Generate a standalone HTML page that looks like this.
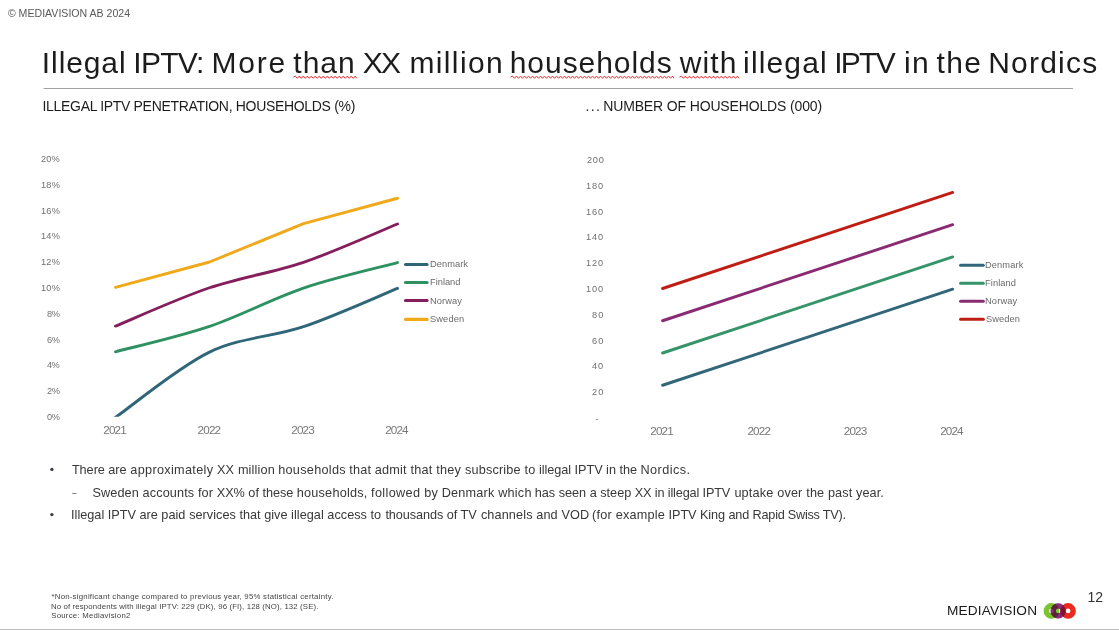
<!DOCTYPE html>
<html lang="en"><head><meta charset="utf-8"><title>Illegal IPTV</title>
<style>
html,body{margin:0;padding:0;background:#fff;}
body{width:1119px;height:630px;position:relative;overflow:hidden;font-family:"Liberation Sans", sans-serif;}
.slide{position:absolute;left:0;top:0;width:1119px;height:629px;border-bottom:1px solid #bdbdbd;background:#fff;overflow:hidden;}
.g{margin:0;padding:0;font-size:0;font-weight:400;list-style:none;position:static;display:block;}
.t{position:absolute;white-space:nowrap;font-family:"Liberation Sans", sans-serif;font-weight:400;}
.chart{position:absolute;left:0;top:0;}
</style></head><body>
<div class="slide">
<svg class="chart" width="1119" height="630" viewBox="0 0 1119 630">
<defs><clipPath id="cl"><rect x="60" y="150" width="360" height="266.8"/></clipPath></defs>
<g fill="none" stroke-width="2.9" stroke-linecap="round" stroke-linejoin="round">
<g clip-path="url(#cl)">
<path d="M112.29,419.55 L116.40,416.70 C131.92,405.94 178.32,367.13 209.50,352.12 C240.68,337.12 272.17,337.30 303.50,326.68 C334.83,316.05 381.83,294.74 397.50,288.35" stroke="#2f6678"/>
<path d="M115.50,351.82 C131.17,347.58 178.17,337.00 209.50,326.38 C240.83,315.75 272.17,298.68 303.50,288.05 C334.83,277.42 381.83,266.84 397.50,262.60" stroke="#2e9162"/>
<path d="M115.50,326.07 C131.17,319.69 178.17,298.38 209.50,287.75 C240.83,277.12 272.17,272.93 303.50,262.30 C334.83,251.67 381.83,230.36 397.50,223.98" stroke="#851e5c"/>
<path d="M115.50,287.45 L209.50,262.00 L303.50,223.68 L397.50,198.23" stroke="#efa91b"/>
</g>
<path d="M662.60,385.25 L952.70,289.15" stroke="#32677a"/>
<path d="M662.60,353.00 L952.70,256.90" stroke="#36946a"/>
<path d="M662.60,320.75 L952.70,224.65" stroke="#8a2a72"/>
<path d="M662.60,288.50 L952.70,192.40" stroke="#bf1e14"/>
<path d="M405.5,264.5 L427.1,264.5" stroke="#2f6678" stroke-width="3.1"/>
<path d="M405.5,282.5 L427.1,282.5" stroke="#2e9162" stroke-width="3.1"/>
<path d="M405.5,300.5 L427.1,300.5" stroke="#851e5c" stroke-width="3.1"/>
<path d="M405.5,319.4 L427.1,319.4" stroke="#efa91b" stroke-width="3.1"/>
<path d="M960.6,265.3 L983.3,265.3" stroke="#32677a" stroke-width="3.1"/>
<path d="M960.6,283.3 L983.3,283.3" stroke="#36946a" stroke-width="3.1"/>
<path d="M960.6,301.3 L983.3,301.3" stroke="#8a2a72" stroke-width="3.1"/>
<path d="M960.6,319.3 L983.3,319.3" stroke="#bf1e14" stroke-width="3.1"/>
</g>
<path d="M293.3,77.2 L295.3,76.1 L297.3,78.3 L299.3,76.1 L301.3,78.3 L303.3,76.1 L305.3,78.3 L307.3,76.1 L309.3,78.3 L311.3,76.1 L313.3,78.3 L315.3,76.1 L317.3,78.3 L319.3,76.1 L321.3,78.3 L323.3,76.1 L325.3,78.3 L327.3,76.1 L329.3,78.3 L331.3,76.1 L333.3,78.3 L335.3,76.1 L337.3,78.3 L339.3,76.1 L341.3,78.3 L343.3,76.1 L345.3,78.3 L347.3,76.1 L349.3,78.3 L351.3,76.1 L353.3,78.3 L355.3,76.1 L356.8,78.3" fill="none" stroke="#e23030" stroke-width="1"/>
<path d="M510.5,77.2 L512.5,76.1 L514.5,78.3 L516.5,76.1 L518.5,78.3 L520.5,76.1 L522.5,78.3 L524.5,76.1 L526.5,78.3 L528.5,76.1 L530.5,78.3 L532.5,76.1 L534.5,78.3 L536.5,76.1 L538.5,78.3 L540.5,76.1 L542.5,78.3 L544.5,76.1 L546.5,78.3 L548.5,76.1 L550.5,78.3 L552.5,76.1 L554.5,78.3 L556.5,76.1 L558.5,78.3 L560.5,76.1 L562.5,78.3 L564.5,76.1 L566.5,78.3 L568.5,76.1 L570.5,78.3 L572.5,76.1 L574.5,78.3 L576.5,76.1 L578.5,78.3 L580.5,76.1 L582.5,78.3 L584.5,76.1 L586.5,78.3 L588.5,76.1 L590.5,78.3 L592.5,76.1 L594.5,78.3 L596.5,76.1 L598.5,78.3 L600.5,76.1 L602.5,78.3 L604.5,76.1 L606.5,78.3 L608.5,76.1 L610.5,78.3 L612.5,76.1 L614.5,78.3 L616.5,76.1 L618.5,78.3 L620.5,76.1 L622.5,78.3 L624.5,76.1 L626.5,78.3 L628.5,76.1 L630.5,78.3 L632.5,76.1 L634.5,78.3 L636.5,76.1 L638.5,78.3 L640.5,76.1 L642.5,78.3 L644.5,76.1 L646.5,78.3 L648.5,76.1 L650.5,78.3 L652.5,76.1 L654.5,78.3 L656.5,76.1 L658.5,78.3 L660.5,76.1 L662.5,78.3 L664.5,76.1 L666.5,78.3 L668.5,76.1 L670.5,78.3 L672.5,76.1 L673.8,78.3" fill="none" stroke="#e23030" stroke-width="1"/>
<path d="M679.4,77.2 L681.4,76.1 L683.4,78.3 L685.4,76.1 L687.4,78.3 L689.4,76.1 L691.4,78.3 L693.4,76.1 L695.4,78.3 L697.4,76.1 L699.4,78.3 L701.4,76.1 L703.4,78.3 L705.4,76.1 L707.4,78.3 L709.4,76.1 L711.4,78.3 L713.4,76.1 L715.4,78.3 L717.4,76.1 L719.4,78.3 L721.4,76.1 L723.4,78.3 L725.4,76.1 L727.4,78.3 L729.4,76.1 L731.4,78.3 L733.4,76.1 L735.4,78.3 L737.4,76.1 L738.8,78.3" fill="none" stroke="#e23030" stroke-width="1"/>
<rect x="43.6" y="88" width="1029.5" height="1" fill="#a2a2a2"/>
<rect x="595.9" y="419" width="2.3" height="0.9" fill="#8a8a8a"/>
<rect x="72.2" y="493" width="4.3" height="0.8" fill="#666"/>
<circle cx="51.9" cy="469.4" r="1.65" fill="#363a48"/><circle cx="51.9" cy="514.6" r="1.65" fill="#363a48"/>
<g>
<path  fill="#7ac52f" fill-rule="evenodd" d="M1043.60,610.9a7.8,7.8 0 1,0 15.6,0a7.8,7.8 0 1,0 -15.6,0Z M1049.10,610.9a2.3,2.3 0 1,0 4.6,0a2.3,2.3 0 1,0 -4.6,0Z"/>
<path  fill="#ea2a1e" fill-rule="evenodd" d="M1060.30,610.9a7.8,7.8 0 1,0 15.6,0a7.8,7.8 0 1,0 -15.6,0Z M1065.80,610.9a2.3,2.3 0 1,0 4.6,0a2.3,2.3 0 1,0 -4.6,0Z"/>
<path style="mix-blend-mode:multiply" fill="#8e2a7c" fill-rule="evenodd" d="M1050.50,610.9a7.6,7.6 0 1,0 15.2,0a7.6,7.6 0 1,0 -15.2,0Z M1055.80,610.9a2.3,2.3 0 1,0 4.6,0a2.3,2.3 0 1,0 -4.6,0Z"/>
<path opacity="0.3" fill="#8e2a7c" fill-rule="evenodd" d="M1050.50,610.9a7.6,7.6 0 1,0 15.2,0a7.6,7.6 0 1,0 -15.2,0Z M1055.80,610.9a2.3,2.3 0 1,0 4.6,0a2.3,2.3 0 1,0 -4.6,0Z"/>
</g>
</svg>
<div class="g">
<span class="t" style="left:7.90px;top:7.52px;font-size:10.6px;line-height:10.6px;letter-spacing:-0.009px;color:#5a5a5a;">© MEDIAVISION AB 2024</span>
</div>
<h1 class="g">
<span class="t" style="left:41.86px;top:48.00px;font-size:30px;line-height:30px;letter-spacing:0.890px;color:#1c1c1c;">Illegal</span>
<span class="t" style="left:133.36px;top:48.00px;font-size:30px;line-height:30px;letter-spacing:-0.762px;color:#1c1c1c;">IPTV:</span>
<span class="t" style="left:211.46px;top:48.00px;font-size:30px;line-height:30px;letter-spacing:1.803px;color:#1c1c1c;">More</span>
<span class="t" style="left:293.30px;top:48.00px;font-size:30px;line-height:30px;letter-spacing:0.999px;color:#1c1c1c;">than</span>
<span class="t" style="left:362.83px;top:48.00px;font-size:30px;line-height:30px;letter-spacing:-1.929px;color:#1c1c1c;">XX</span>
<span class="t" style="left:409.43px;top:48.00px;font-size:30px;line-height:30px;letter-spacing:1.373px;color:#1c1c1c;">million</span>
<span class="t" style="left:509.73px;top:48.00px;font-size:30px;line-height:30px;letter-spacing:0.951px;color:#1c1c1c;">households</span>
<span class="t" style="left:679.87px;top:48.00px;font-size:30px;line-height:30px;letter-spacing:1.055px;color:#1c1c1c;">with</span>
<span class="t" style="left:743.12px;top:48.00px;font-size:30px;line-height:30px;letter-spacing:1.140px;color:#1c1c1c;">illegal</span>
<span class="t" style="left:834.16px;top:48.00px;font-size:30px;line-height:30px;letter-spacing:-1.727px;color:#1c1c1c;">IPTV</span>
<span class="t" style="left:904.12px;top:48.00px;font-size:30px;line-height:30px;letter-spacing:1.210px;color:#1c1c1c;">in</span>
<span class="t" style="left:936.40px;top:48.00px;font-size:30px;line-height:30px;letter-spacing:1.456px;color:#1c1c1c;">the</span>
<span class="t" style="left:988.26px;top:48.00px;font-size:30px;line-height:30px;letter-spacing:1.199px;color:#1c1c1c;">Nordics</span>
</h1>
<h2 class="g">
<span class="t" style="left:42.55px;top:99.05px;font-size:14px;line-height:14px;letter-spacing:-0.318px;color:#1c1c1c;">ILLEGAL IPTV PENETRATION, HOUSEHOLDS (%)</span>
</h2>
<div class="g">
<span class="t" style="left:46.97px;top:412.89px;font-size:8.4px;line-height:8.4px;letter-spacing:-0.390px;color:#707070;transform:scaleX(1.1);transform-origin:0 0;">0%</span>
<span class="t" style="left:46.86px;top:387.10px;font-size:8.4px;line-height:8.4px;letter-spacing:-0.290px;color:#707070;transform:scaleX(1.1);transform-origin:0 0;">2%</span>
<span class="t" style="left:47.19px;top:361.31px;font-size:8.4px;line-height:8.4px;letter-spacing:-0.590px;color:#707070;transform:scaleX(1.1);transform-origin:0 0;">4%</span>
<span class="t" style="left:46.86px;top:335.52px;font-size:8.4px;line-height:8.4px;letter-spacing:-0.290px;color:#707070;transform:scaleX(1.1);transform-origin:0 0;">6%</span>
<span class="t" style="left:46.97px;top:309.73px;font-size:8.4px;line-height:8.4px;letter-spacing:-0.390px;color:#707070;transform:scaleX(1.1);transform-origin:0 0;">8%</span>
<span class="t" style="left:40.94px;top:283.94px;font-size:8.4px;line-height:8.4px;letter-spacing:0.210px;color:#707070;transform:scaleX(1.1);transform-origin:0 0;">10%</span>
<span class="t" style="left:40.94px;top:258.15px;font-size:8.4px;line-height:8.4px;letter-spacing:0.210px;color:#707070;transform:scaleX(1.1);transform-origin:0 0;">12%</span>
<span class="t" style="left:40.94px;top:232.36px;font-size:8.4px;line-height:8.4px;letter-spacing:0.210px;color:#707070;transform:scaleX(1.1);transform-origin:0 0;">14%</span>
<span class="t" style="left:40.94px;top:206.57px;font-size:8.4px;line-height:8.4px;letter-spacing:0.210px;color:#707070;transform:scaleX(1.1);transform-origin:0 0;">16%</span>
<span class="t" style="left:40.94px;top:180.78px;font-size:8.4px;line-height:8.4px;letter-spacing:0.210px;color:#707070;transform:scaleX(1.1);transform-origin:0 0;">18%</span>
<span class="t" style="left:41.16px;top:154.99px;font-size:8.4px;line-height:8.4px;letter-spacing:0.110px;color:#707070;transform:scaleX(1.1);transform-origin:0 0;">20%</span>
<span class="t" style="left:103.20px;top:423.99px;font-size:11.7px;line-height:11.7px;letter-spacing:-0.807px;color:#777;">2021</span>
<span class="t" style="left:197.50px;top:423.99px;font-size:11.7px;line-height:11.7px;letter-spacing:-0.807px;color:#777;">2022</span>
<span class="t" style="left:291.20px;top:423.99px;font-size:11.7px;line-height:11.7px;letter-spacing:-0.807px;color:#777;">2023</span>
<span class="t" style="left:385.20px;top:423.99px;font-size:11.7px;line-height:11.7px;letter-spacing:-0.874px;color:#777;">2024</span>
<span class="t" style="left:429.73px;top:259.87px;font-size:8.3px;line-height:8.3px;letter-spacing:0.031px;color:#6a6a6a;transform:scaleX(1.12);transform-origin:0 0;">Denmark</span>
<span class="t" style="left:429.73px;top:277.87px;font-size:8.3px;line-height:8.3px;letter-spacing:-0.006px;color:#6a6a6a;transform:scaleX(1.12);transform-origin:0 0;">Finland</span>
<span class="t" style="left:429.73px;top:296.57px;font-size:8.3px;line-height:8.3px;letter-spacing:0.055px;color:#6a6a6a;transform:scaleX(1.12);transform-origin:0 0;">Norway</span>
<span class="t" style="left:430.06px;top:314.67px;font-size:8.3px;line-height:8.3px;letter-spacing:0.093px;color:#6a6a6a;transform:scaleX(1.12);transform-origin:0 0;">Sweden</span>
</div>
<h2 class="g">
<span class="t" style="left:585.60px;top:99.05px;font-size:14px;line-height:14px;letter-spacing:1.310px;color:#1c1c1c;">...</span>
<span class="t" style="left:603.20px;top:99.05px;font-size:14px;line-height:14px;letter-spacing:-0.141px;color:#1c1c1c;">NUMBER OF HOUSEHOLDS (000)</span>
</h2>
<div class="g">
<span class="t" style="left:591.96px;top:388.19px;font-size:8.4px;line-height:8.4px;letter-spacing:1.056px;color:#707070;transform:scaleX(1.1);transform-origin:0 0;">20</span>
<span class="t" style="left:592.29px;top:362.39px;font-size:8.4px;line-height:8.4px;letter-spacing:0.756px;color:#707070;transform:scaleX(1.1);transform-origin:0 0;">40</span>
<span class="t" style="left:591.96px;top:336.59px;font-size:8.4px;line-height:8.4px;letter-spacing:1.056px;color:#707070;transform:scaleX(1.1);transform-origin:0 0;">60</span>
<span class="t" style="left:592.07px;top:310.79px;font-size:8.4px;line-height:8.4px;letter-spacing:0.956px;color:#707070;transform:scaleX(1.1);transform-origin:0 0;">80</span>
<span class="t" style="left:586.34px;top:284.99px;font-size:8.4px;line-height:8.4px;letter-spacing:0.747px;color:#707070;transform:scaleX(1.1);transform-origin:0 0;">100</span>
<span class="t" style="left:586.34px;top:259.19px;font-size:8.4px;line-height:8.4px;letter-spacing:0.747px;color:#707070;transform:scaleX(1.1);transform-origin:0 0;">120</span>
<span class="t" style="left:586.34px;top:233.39px;font-size:8.4px;line-height:8.4px;letter-spacing:0.747px;color:#707070;transform:scaleX(1.1);transform-origin:0 0;">140</span>
<span class="t" style="left:586.34px;top:207.59px;font-size:8.4px;line-height:8.4px;letter-spacing:0.747px;color:#707070;transform:scaleX(1.1);transform-origin:0 0;">160</span>
<span class="t" style="left:586.34px;top:181.79px;font-size:8.4px;line-height:8.4px;letter-spacing:0.747px;color:#707070;transform:scaleX(1.1);transform-origin:0 0;">180</span>
<span class="t" style="left:586.56px;top:155.99px;font-size:8.4px;line-height:8.4px;letter-spacing:0.647px;color:#707070;transform:scaleX(1.1);transform-origin:0 0;">200</span>
<span class="t" style="left:650.20px;top:424.89px;font-size:11.7px;line-height:11.7px;letter-spacing:-0.807px;color:#777;">2021</span>
<span class="t" style="left:747.40px;top:424.89px;font-size:11.7px;line-height:11.7px;letter-spacing:-0.807px;color:#777;">2022</span>
<span class="t" style="left:843.70px;top:424.89px;font-size:11.7px;line-height:11.7px;letter-spacing:-0.807px;color:#777;">2023</span>
<span class="t" style="left:940.20px;top:424.89px;font-size:11.7px;line-height:11.7px;letter-spacing:-0.874px;color:#777;">2024</span>
<span class="t" style="left:985.23px;top:260.67px;font-size:8.3px;line-height:8.3px;letter-spacing:0.090px;color:#6a6a6a;transform:scaleX(1.12);transform-origin:0 0;">Denmark</span>
<span class="t" style="left:985.23px;top:278.77px;font-size:8.3px;line-height:8.3px;letter-spacing:0.083px;color:#6a6a6a;transform:scaleX(1.12);transform-origin:0 0;">Finland</span>
<span class="t" style="left:985.23px;top:297.37px;font-size:8.3px;line-height:8.3px;letter-spacing:0.126px;color:#6a6a6a;transform:scaleX(1.12);transform-origin:0 0;">Norway</span>
<span class="t" style="left:985.56px;top:315.27px;font-size:8.3px;line-height:8.3px;letter-spacing:0.057px;color:#6a6a6a;transform:scaleX(1.12);transform-origin:0 0;">Sweden</span>
</div>
<ul class="g">
<li class="g">
<span class="t" style="left:71.90px;top:463.85px;font-size:12.7px;line-height:12.7px;letter-spacing:-0.037px;color:#383838;">There are</span>
<span class="t" style="left:130.30px;top:463.85px;font-size:12.7px;line-height:12.7px;letter-spacing:0.308px;color:#383838;">approximately</span>
<span class="t" style="left:217.00px;top:463.85px;font-size:12.7px;line-height:12.7px;letter-spacing:0.145px;color:#383838;">XX million</span>
<span class="t" style="left:278.20px;top:463.85px;font-size:12.7px;line-height:12.7px;letter-spacing:0.276px;color:#383838;">households</span>
<span class="t" style="left:349.20px;top:463.85px;font-size:12.7px;line-height:12.7px;letter-spacing:0.191px;color:#383838;">that admit that they</span>
<span class="t" style="left:465.00px;top:463.85px;font-size:12.7px;line-height:12.7px;letter-spacing:0.163px;color:#383838;">subscribe to</span>
<span class="t" style="left:538.90px;top:463.85px;font-size:12.7px;line-height:12.7px;letter-spacing:-0.037px;color:#383838;">illegal IPTV in the</span>
<span class="t" style="left:640.50px;top:463.85px;font-size:12.7px;line-height:12.7px;letter-spacing:0.436px;color:#383838;">Nordics.</span>
<ul class="g">
<li class="g">
<span class="t" style="left:92.40px;top:486.85px;font-size:12.7px;line-height:12.7px;letter-spacing:0.118px;color:#383838;">Sweden accounts for</span>
<span class="t" style="left:216.70px;top:486.85px;font-size:12.7px;line-height:12.7px;letter-spacing:-0.017px;color:#383838;">XX% of these</span>
<span class="t" style="left:296.70px;top:486.85px;font-size:12.7px;line-height:12.7px;letter-spacing:0.224px;color:#383838;">households,</span>
<span class="t" style="left:371.10px;top:486.85px;font-size:12.7px;line-height:12.7px;letter-spacing:0.331px;color:#383838;">followed by</span>
<span class="t" style="left:441.70px;top:486.85px;font-size:12.7px;line-height:12.7px;letter-spacing:0.195px;color:#383838;">Denmark which</span>
<span class="t" style="left:534.70px;top:486.85px;font-size:12.7px;line-height:12.7px;letter-spacing:-0.005px;color:#383838;">has seen a steep</span>
<span class="t" style="left:634.80px;top:486.85px;font-size:12.7px;line-height:12.7px;letter-spacing:-0.150px;color:#383838;">XX in illegal IPTV</span>
<span class="t" style="left:734.40px;top:486.85px;font-size:12.7px;line-height:12.7px;letter-spacing:0.165px;color:#383838;">uptake over the</span>
<span class="t" style="left:827.90px;top:486.85px;font-size:12.7px;line-height:12.7px;letter-spacing:0.107px;color:#383838;">past year.</span>
</li>
</ul>
</li>
<li class="g">
<span class="t" style="left:71.10px;top:509.25px;font-size:12.7px;line-height:12.7px;letter-spacing:0.000px;color:#383838;">Illegal IPTV are paid</span>
<span class="t" style="left:189.20px;top:509.25px;font-size:12.7px;line-height:12.7px;letter-spacing:0.015px;color:#383838;">services that give</span>
<span class="t" style="left:291.10px;top:509.25px;font-size:12.7px;line-height:12.7px;letter-spacing:0.032px;color:#383838;">illegal access to</span>
<span class="t" style="left:385.40px;top:509.25px;font-size:12.7px;line-height:12.7px;letter-spacing:-0.065px;color:#383838;">thousands of TV</span>
<span class="t" style="left:480.90px;top:509.25px;font-size:12.7px;line-height:12.7px;letter-spacing:0.118px;color:#383838;">channels and VOD</span>
<span class="t" style="left:592.00px;top:509.25px;font-size:12.7px;line-height:12.7px;letter-spacing:0.216px;color:#383838;">(for example</span>
<span class="t" style="left:668.60px;top:509.25px;font-size:12.7px;line-height:12.7px;letter-spacing:-0.086px;color:#383838;">IPTV King and</span>
<span class="t" style="left:752.60px;top:509.25px;font-size:12.7px;line-height:12.7px;letter-spacing:-0.244px;color:#383838;">Rapid Swiss TV).</span>
</li>
</ul>
<div class="g">
<span class="t" style="left:51.50px;top:593.00px;font-size:7.8px;line-height:7.8px;letter-spacing:0.238px;color:#444;">*Non-significant change compared to previous year, 95% statistical certainty.</span>
<span class="t" style="left:51.00px;top:602.90px;font-size:7.8px;line-height:7.8px;letter-spacing:0.133px;color:#444;">No of respondents with illegal IPTV: 229 (DK), 96 (FI), 128 (NO), 132 (SE).</span>
<span class="t" style="left:51.30px;top:611.70px;font-size:7.8px;line-height:7.8px;letter-spacing:0.235px;color:#444;">Source: Mediavision2</span>
</div>
<div class="g">
<span class="t" style="left:946.75px;top:604.39px;font-size:13px;line-height:13px;letter-spacing:0.143px;color:#1a1a1a;transform:scaleX(1.05);transform-origin:0 0;">MEDIAVISION</span>
</div>
<div class="g">
<span class="t" style="left:1087.60px;top:589.95px;font-size:14px;line-height:14px;letter-spacing:-0.086px;color:#333;">12</span>
</div>
</div>
</body></html>
